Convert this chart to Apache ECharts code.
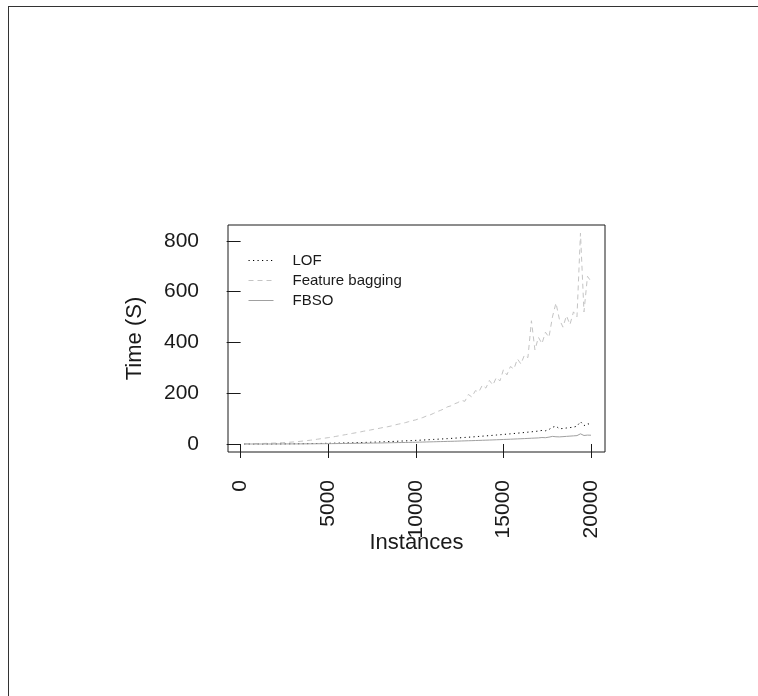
<!DOCTYPE html>
<html>
<head>
<meta charset="utf-8">
<script src="https://cdn.jsdelivr.net/npm/echarts@6/dist/echarts.min.js"></script>
<style>
html,body{margin:0;padding:0;background:#fff;}
#c{width:758px;height:696px;}
</style>
</head>
<body>
<div id="c"></div>
<script>
// x positions: 200 .. 20000 step 200
const instances = [
  200,400,600,800,1000,1200,1400,1600,1800,2000,
  2200,2400,2600,2800,3000,3200,3400,3600,3800,4000,
  4200,4400,4600,4800,5000,5200,5400,5600,5800,6000,
  6200,6400,6600,6800,7000,7200,7400,7600,7800,8000,
  8200,8400,8600,8800,9000,9200,9400,9600,9800,10000,
  10200,10400,10600,10800,11000,11200,11400,11600,11800,12000,
  12200,12400,12600,12800,13000,13200,13400,13600,13800,14000,
  14200,14400,14600,14800,15000,15200,15400,15600,15800,16000,
  16200,16400,16600,16800,17000,17200,17400,17600,17800,18000,
  18200,18400,18600,18800,19000,19200,19400,19600,19800,20000
];
const lofTime = [
  0.0,0.0,0.0,0.0,0.1, 0.1,0.1,0.2,0.2,0.3,
  0.4,0.4,0.5,0.6,0.8, 0.9,1.0,1.2,1.4,1.6,
  1.8,2.0,2.2,2.5,2.7, 3.0,3.3,3.6,3.9,4.2,
  4.6,4.9,5.3,5.6,6.0, 6.4,6.9,7.3,7.8,8.3,
  8.8,9.3,9.8,10.4,11.0, 11.6,12.2,12.9,13.5,14.2,
  14.9,15.6,16.3,17.1,17.9, 18.7,19.5,20.3,21.1,22.0,
  22.9,23.8,24.8,25.8,26.7, 27.7,28.7,29.8,30.9,31.9,
  33.0,34.1,35.3,36.4,37.6, 38.8,40.0,41.3,42.6,43.9,
  45.2,46.6,48.0,49.4,51.0, 53.5,52.0,57.0,66.0,70.0,
  60.0,61.0,63.0,64.5,66.5, 70.0,88.0,72.0,80.0,76.0
];
const featureBaggingTime = [
  0.5,0.8,1,1.3,1.6, 2,2.3,2.8,3.3,3.8,
  4.5,5.2,6,7,8, 9,10.5,12,13.5,15,
  17,19,21,23,25, 27,29.5,32,34.5,37,
  39.5,42,44.5,47,50, 52.5,55,57.5,60,63,
  66,68,71,75,78, 81,84,88,92,95,
  100,104,110,114,120, 127,132,138,146,150,
  158,163,172,168,195, 185,210,205,232,220,
  250,232,262,248,292, 272,305,295,335,315,
  350,340,485,370,420, 395,440,420,500,555,
  490,460,505,470,520, 500,830,520,660,640
];
const fbsoTime = [
  0.0,0.0,0.0,0.0,0.0, 0.0,0.1,0.1,0.1,0.2,
  0.2,0.2,0.3,0.3,0.4, 0.4,0.5,0.6,0.7,0.8,
  0.9,1.0,1.1,1.2,1.4, 1.5,1.6,1.8,1.9,2.1,
  2.3,2.5,2.7,2.9,3.1, 3.3,3.5,3.7,3.9,4.1,
  4.4,4.7,5.0,5.3,5.6, 5.8,6.0,6.3,6.6,6.9,
  7.3,7.6,8.0,8.3,8.7, 9.1,9.5,9.8,10.2,10.5,
  10.9,11.4,11.9,12.3,12.8, 13.2,13.7,14.1,14.6,15.1,
  15.6,16.1,16.6,17.2,17.8, 18.3,18.9,19.5,20.1,20.7,
  21.3,22.0,22.7,23.3,24.0, 25.5,24.8,27.0,30.0,28.5,
  28.0,29.0,30.0,31.0,32.0, 33.0,40.0,33.5,35.0,34.5
];
const seriesNames = ['LOF','Feature bagging','FBSO'];
const xTicks = [0,5000,10000,15000,20000];
const yTicks = [0,200,400,600,800];

const font = '"Liberation Sans", Arial, Helvetica, sans-serif';
const pair = (ys) => instances.map((x,i)=>[x, ys[i]]);

const chart = echarts.init(document.getElementById('c'), null, {renderer:'canvas'});
chart.setOption({
  animation: false,
  backgroundColor: '#ffffff',
  textStyle: {fontFamily: font},
  grid: {left: 228, top: 225, right: 153, bottom: 244, show: true, borderColor: '#1a1a1a', borderWidth: 1, containLabel: false},
  legend: {
    orient: 'vertical', left: 248, top: 253, padding: 0,
    itemWidth: 25, itemHeight: 14, itemGap: 5,
    data: seriesNames,
    itemStyle: {opacity: 0},
    lineStyle: {width: 1},
    formatter: n => '{t|' + n + '}',
    textStyle: {fontFamily: font, fontSize: 15, color: '#1a1a1a',
      rich: {t: {fontFamily: font, fontSize: 15, color: '#1a1a1a', padding: [0,0,0,14]}}}
  },
  xAxis: {
    type: 'value', min: -720, max: 20800,
    name: 'Instances', nameLocation: 'middle', nameGap: 80, nameMoveOverlap: false,
    nameTextStyle: {fontFamily: font, fontSize: 22, color: '#1a1a1a'},
    axisLine: {show: false},
    splitLine: {show: false},
    axisTick: {show: true, inside: false, length: 14, lineStyle: {color: '#1a1a1a', width: 1}, customValues: xTicks},
    axisLabel: {show: true, rotate: 90, margin: 28, fontSize: 21, color: '#1a1a1a', fontFamily: font,
      customValues: xTicks, formatter: v => String(v)}
  },
  yAxis: {
    type: 'value', min: -31.5, max: 862,
    name: 'Time (S)', nameLocation: 'middle', nameGap: 82, nameRotate: 90,
    nameTextStyle: {fontFamily: font, fontSize: 22, color: '#1a1a1a'},
    axisLine: {show: false},
    splitLine: {show: false},
    axisTick: {show: true, inside: false, length: 14, lineStyle: {color: '#1a1a1a', width: 1}, customValues: yTicks},
    axisLabel: {show: true, margin: 29, fontSize: 21, color: '#1a1a1a', fontFamily: font,
      customValues: yTicks, formatter: v => String(v)}
  },
  series: [
    {name: seriesNames[0], type: 'line', data: pair(lofTime), symbol: 'none', showSymbol: false,
     lineStyle: {color: '#000000', width: 1, type: [1.2, 3.3]}, itemStyle: {color: '#000000'}},
    {name: seriesNames[1], type: 'line', data: pair(featureBaggingTime), symbol: 'none', showSymbol: false,
     lineStyle: {color: '#c4c4c4', width: 1, type: [5, 4]}, itemStyle: {color: '#c4c4c4'}},
    {name: seriesNames[2], type: 'line', data: pair(fbsoTime), symbol: 'none', showSymbol: false,
     lineStyle: {color: '#a0a0a0', width: 1, type: 'solid'}, itemStyle: {color: '#a0a0a0'}}
  ],
  graphic: [
    {type: 'line', shape: {x1: 8.5, y1: 6, x2: 8.5, y2: 696}, style: {stroke: '#333', lineWidth: 1}},
    {type: 'line', shape: {x1: 8, y1: 6.5, x2: 758, y2: 6.5}, style: {stroke: '#333', lineWidth: 1}}
  ]
});
</script>
</body>
</html>
